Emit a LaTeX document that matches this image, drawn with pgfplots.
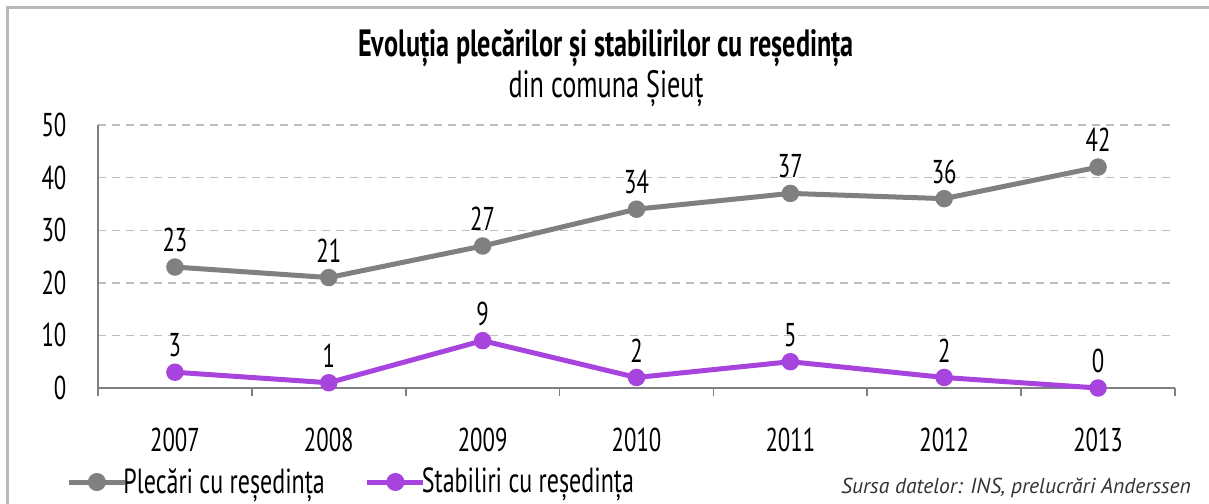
\documentclass[border=0pt]{standalone}
\usepackage{pgfplots}
\pgfplotsset{compat=1.18}
\usepackage{fontspec}
\setmainfont{PT Sans}
\newfontfamily\narrow[FakeStretch=0.69]{PT Sans}
\definecolor{plgray}{RGB}{128,128,128}
\definecolor{plpurple}{RGB}{168,68,222}
\definecolor{gridgray}{RGB}{190,190,190}
\begin{document}
\begin{tikzpicture}[x=0.5pt,y=-0.5pt]
\path[use as bounding box] (0,0) rectangle (1209,503);
\draw[gray!55, line width=1.5pt] (7.5,510) -- (7.5,7.5) -- (1215,7.5);
\node[font=\narrow\bfseries\fontsize{19}{22}\selectfont] at (606,48) {Evoluția plecărilor și stabilirilor cu reședința};
\node[font=\narrow\fontsize{19}{22}\selectfont] at (606,89) {din comuna Șieuț};
\begin{axis}[
  at={(49pt,-194pt)}, anchor=south west,
  scale only axis, width=538.5pt, height=131.5pt,
  xmin=-0.5, xmax=6.5, ymin=0, ymax=50,
  axis lines*=left,
  axis line style={plgray, line width=0.8pt},
  xtick={0,...,6},
  xticklabels={2007,2008,2009,2010,2011,2012,2013},
  major x tick style={draw=none},
  minor xtick={-0.5,0.5,...,6.5},
  minor x tick style={plgray, line width=0.8pt},
  minor tick length=4pt,
  tick align=outside,
  ytick={0,10,...,50},
  major y tick style={draw=none},
  ymajorgrids,
  major grid style={gridgray, dashed, line width=0.7pt, dash pattern=on 4pt off 3pt},
  tick label style={font=\narrow\fontsize{16.5}{20}\selectfont},
  xticklabel style={yshift=-12pt},
  yticklabel style={xshift=-8pt},
  /pgf/number format/assume math mode=true,
  clip=false,
  nodes near coords,
  every node near coord/.append style={font=\narrow\fontsize{16.5}{20}\selectfont, black, anchor=south, yshift=3pt},
  legend columns=2,
  legend style={at={(-19pt,-47pt)}, anchor=west, draw=none, fill=none,
    font=\narrow\fontsize{17.4}{20}\selectfont, column sep=0pt,
    nodes={inner sep=1pt},
    /tikz/every odd column/.append style={column sep=-3pt},
    /tikz/every even column/.append style={column sep=19pt}},
  legend image code/.code={
    \draw[#1] (0pt,0pt) -- (28pt,0pt);
    \fill[#1] (14pt,0pt) circle (3.25pt);
  },
]
\addplot[plgray, line width=2.5pt, mark=*, mark size=3.1pt, mark options={solid}] coordinates {
(0,23) (1,21) (2,27) (3,34) (4,37) (5,36) (6,42)};
\addlegendentry{Plecări cu reședința}
\addplot[plpurple, line width=2.5pt, mark=*, mark size=3.1pt, mark options={solid}] coordinates {
(0,3) (1,1) (2,9) (3,2) (4,5) (5,2) (6,0)};
\addlegendentry{Stabiliri cu reședința}
\end{axis}
\node[font=\itshape\fontsize{10.8}{14}\selectfont, anchor=east, text=black!80] at (1198,488) {Sursa datelor: INS, prelucrări Anderssen};
\end{tikzpicture}
\end{document}
